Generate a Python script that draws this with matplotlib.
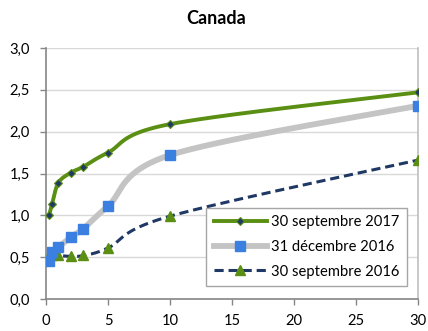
import numpy as np
import matplotlib
matplotlib.use("Agg")
import matplotlib.pyplot as plt
from matplotlib.ticker import FuncFormatter, MultipleLocator

plt.rcParams['font.family'] = ['Lato', 'DejaVu Sans']

# Maturities (years) and yields (%)
maturities = [0.25, 0.5, 1, 2, 3, 5, 10, 30]
sep_2017 = [1.00, 1.14, 1.39, 1.51, 1.58, 1.75, 2.09, 2.47]
dec_2016 = [0.45, 0.56, 0.62, 0.74, 0.84, 1.11, 1.72, 2.31]
sep_2016 = [0.53, 0.53, 0.52, 0.51, 0.52, 0.61, 0.99, 1.66]
labels = ["30 septembre 2017", "31 décembre 2016", "30 septembre 2016"]


def smooth(xs, ys, n=40):
    """Catmull-Rom style Bezier smoothing through the given points."""
    p = np.column_stack([xs, ys]).astype(float)
    pts = np.vstack([p[0], p, p[-1]])
    out = []
    t = np.linspace(0, 1, n)[:, None]
    for i in range(1, len(pts) - 2):
        p0, p1, p2, p3 = pts[i - 1], pts[i], pts[i + 1], pts[i + 2]
        c1 = p1 + (p2 - p0) / 6.0
        c2 = p2 - (p3 - p1) / 6.0
        seg = ((1 - t) ** 3) * p1 + 3 * ((1 - t) ** 2) * t * c1 + 3 * (1 - t) * t ** 2 * c2 + t ** 3 * p2
        out.append(seg if i == 1 else seg[1:])
    seg = np.vstack(out)
    return seg[:, 0], seg[:, 1]


fig = plt.figure(figsize=(4.28, 3.31), dpi=100)
ax = fig.add_axes([46 / 428, 1 - 299 / 331, 372 / 428, 251 / 331])

green = "#5a8f14"
navy = "#1f3864"
blue = "#3b7fe0"
gray_line = "#c4c4c4"

# 30 septembre 2016
sx, sy = smooth(maturities, sep_2016)
ax.plot(sx, sy, color=navy, lw=2.2, ls=(0, (3, 1.6)), zorder=3)
ax.plot(maturities, sep_2016, ls="none", marker="^", ms=7.5, mfc=green, mec=green, zorder=4)

# 31 décembre 2016
sx, sy = smooth(maturities, dec_2016)
ax.plot(sx, sy, color=gray_line, lw=4.2, solid_capstyle="round", zorder=3)
ax.plot(maturities, dec_2016, ls="none", marker="s", ms=6.5, mfc=blue, mec=blue, zorder=4)

# 30 septembre 2017
sx, sy = smooth(maturities, sep_2017)
ax.plot(sx, sy, color=green, lw=2.8, solid_capstyle="round", zorder=5)
ax.plot(maturities, sep_2017, ls="none", marker="D", ms=4, mfc=navy, mec=green, mew=0.8, zorder=6)

# Legend proxies
h1, = ax.plot([], [], color=green, lw=2.8, marker="D", ms=4, mfc=navy, mec=green, mew=0.8)
h2, = ax.plot([], [], color=gray_line, lw=4.2, marker="s", ms=6.5, mfc=blue, mec=blue)
h3, = ax.plot([], [], color=navy, lw=2.2, ls=(0, (3, 1.6)), marker="^", ms=7.5, mfc=green, mec=green)
leg = ax.legend([h1, h2, h3], labels, loc="lower right", bbox_to_anchor=(0.970, 0.052),
                frameon=True, fancybox=False, edgecolor="#a6a6a6", framealpha=1,
                fontsize=10.6, handlelength=3.6, handletextpad=0.3, borderpad=0.5,
                labelspacing=0.72, borderaxespad=0)
leg.get_frame().set_linewidth(1.0)
leg.set_zorder(10)

ax.set_xlim(0, 30)
ax.set_ylim(0, 3.0)
ax.xaxis.set_major_locator(MultipleLocator(5))
ax.yaxis.set_major_locator(MultipleLocator(0.5))
ax.yaxis.set_major_formatter(FuncFormatter(lambda v, _: f"{v:.1f}".replace(".", ",")))
ax.grid(axis="y", color="#d9d9d9", lw=1.0, zorder=0)
ax.set_axisbelow(True)

for side in ["left", "bottom"]:
    ax.spines[side].set_color("#868686")
    ax.spines[side].set_linewidth(1.2)
ax.spines["right"].set_color("#bfbfbf")
ax.spines["right"].set_linewidth(1.2)
ax.spines["top"].set_visible(False)
ax.tick_params(axis="both", direction="out", length=4.5, width=1.0, color="#868686",
               labelsize=10.6, labelcolor="black")
ax.tick_params(axis="y", pad=7)
ax.tick_params(axis="x", pad=6)

fig.text(216 / 428, 1 - 19 / 331, "Canada", ha="center", va="center",
         fontsize=13, fontweight="bold")

fig.savefig("out.png", dpi=100)
